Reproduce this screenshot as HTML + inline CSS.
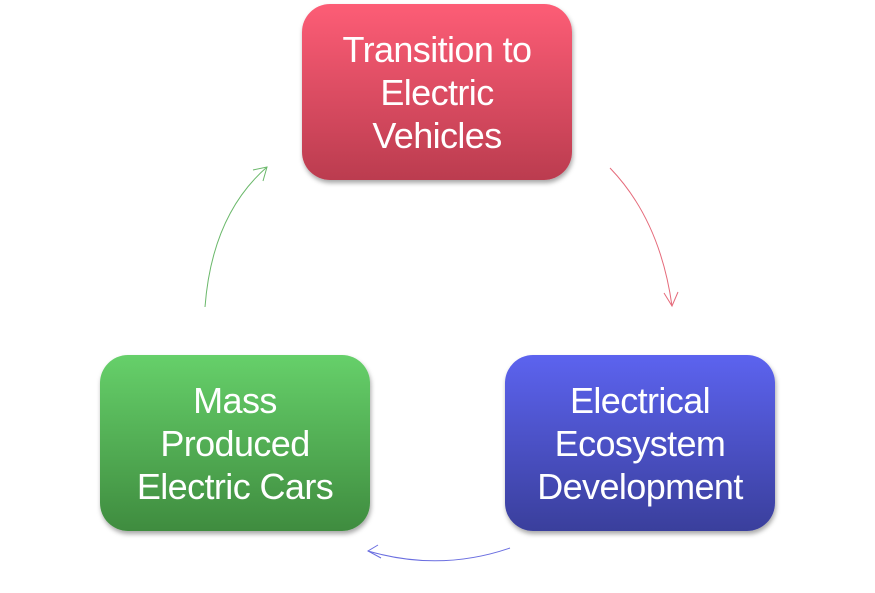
<!DOCTYPE html>
<html><head><style>
body{margin:0;width:875px;height:593px;background:#fff;position:relative;overflow:hidden;font-family:"Liberation Sans",sans-serif}
.b{position:absolute;width:270px;height:176px;border-radius:28px;color:#fff;font-size:36px;line-height:43px;text-align:center;display:flex;align-items:center;justify-content:center;box-shadow:1px 3px 5px rgba(0,0,0,.35);letter-spacing:-0.6px}
</style></head><body>
<div class="b" style="left:302px;top:4px;background:linear-gradient(#fd5d76,#bb3c4f)">Transition to<br>Electric<br>Vehicles</div>
<div class="b" style="left:100px;top:355px;background:linear-gradient(#66d06a,#3f8c3f)">Mass<br>Produced<br>Electric Cars</div>
<div class="b" style="left:505px;top:355px;background:linear-gradient(#5c63ef,#3a3f9c)">Electrical<br>Ecosystem<br>Development</div>
<svg width="875" height="593" style="position:absolute;left:0;top:0" fill="none" stroke-width="1">
<path d="M610 168 Q660 220 672 306" stroke="#e56a7a"/>
<path d="M664 293 L672 306 L678 292" stroke="#e56a7a"/>
<path d="M205 307 Q212 215 267 167" stroke="#6ab86a"/>
<path d="M253 170 L267 167 L263 181" stroke="#6ab86a"/>
<path d="M510 548 Q440 572 368 551" stroke="#6a6ee0"/>
<path d="M378 545 L368 551 L381 558" stroke="#6a6ee0"/>
</svg>
</body></html>
